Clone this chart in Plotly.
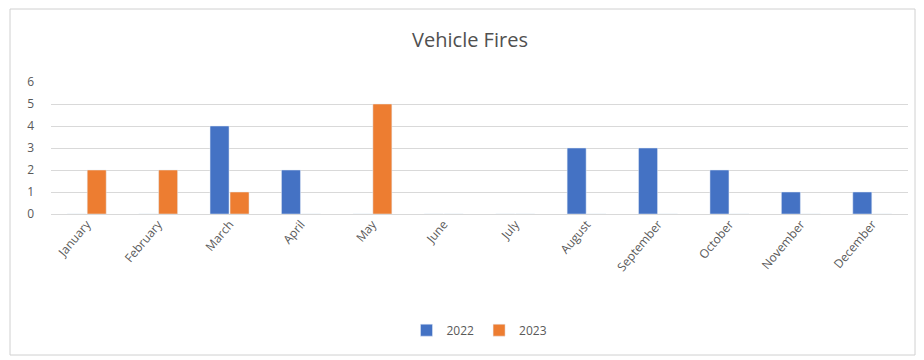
import plotly.graph_objects as go

months = ["January", "February", "March", "April", "May", "June", "July",
          "August", "September", "October", "November", "December"]
fires_2022 = [0, 0, 4, 2, 0, 0, 0, 3, 3, 2, 1, 1]
fires_2023 = [2, 2, 1, 0, 5, 0, 0, 0, 0, 0, 0, 0]
y_ticks = [0, 1, 2, 3, 4, 5, 6]

fig = go.Figure()
fig.add_trace(go.Bar(x=months, y=fires_2022, name="2022", marker_color="#4472C4"))
fig.add_trace(go.Bar(x=months, y=fires_2023, name="2023", marker_color="#ED7D31"))

font_family = "'Open Sans', Lato, sans-serif"
pw, ph = 857, 132
fig.update_layout(
    width=924, height=360,
    margin=dict(l=43, r=24, t=74, b=154),
    paper_bgcolor="white", plot_bgcolor="white",
    barmode="group", bargap=0.44, bargroupgap=0.05,
    title=dict(text="Vehicle Fires", x=0.5, xanchor="center", y=0.91, yanchor="middle",
               font=dict(family=font_family, size=20, color="#505050")),
    font=dict(family=font_family, size=12, color="#595959"),
    xaxis=dict(tickangle=-50, showgrid=False, showline=False, ticks="",
               tickfont=dict(size=12, color="#595959")),
    yaxis=dict(range=[0, 6], tickvals=y_ticks, showgrid=True, gridcolor="#D9D9D9",
               gridwidth=1, zeroline=True, zerolinecolor="#D9D9D9", zerolinewidth=1,
               ticks="", showline=False, ticklabelstandoff=16,
               tickfont=dict(size=12, color="#595959")),
    legend=dict(orientation="h", x=0.5, xanchor="center", y=-0.88, yanchor="middle",
                font=dict(size=12, color="#595959"), itemwidth=30, traceorder="normal"),
    showlegend=True,
)
fig.add_shape(type="rect", xref="paper", yref="paper",
              x0=(2 - 43) / pw, x1=1 + 7 / pw, y0=-(347 - 206) / ph, y1=1 + 73 / ph,
              line=dict(color="#D0D0D0", width=1), fillcolor="rgba(0,0,0,0)", layer="below")

fig.write_html("out.html")
